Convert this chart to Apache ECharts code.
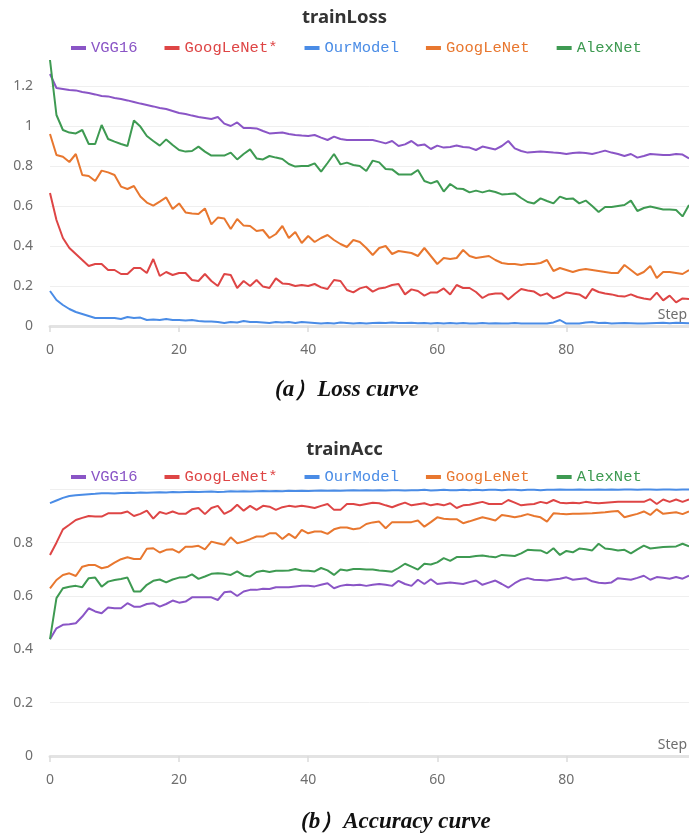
<!DOCTYPE html>
<html>
<head>
<meta charset="utf-8">
<script src="https://cdn.jsdelivr.net/npm/echarts@6/dist/echarts.min.js"></script>
<style>
html,body{margin:0;padding:0;background:#fff;}
#c{width:689px;height:834px;}
</style>
</head>
<body>
<div id="c"></div>
<script>
const seriesNames = ['VGG16', 'GoogLeNet*', 'OurModel', 'GoogLeNet', 'AlexNet'];
const colors = ['#8a55c6', '#de4545', '#4a8ce6', '#e8772f', '#3e9a52'];
const yTicksLoss = [0, 0.2, 0.4, 0.6, 0.8, 1, 1.2];
const yTicksAcc = [0, 0.2, 0.4, 0.6, 0.8];
const xTicks = [0, 20, 40, 60, 80];

const lossVGG16 = [1.26,1.19,1.185,1.18,1.178,1.17,1.165,1.158,1.15,1.148,
1.14,1.135,1.128,1.12,1.112,1.105,1.098,1.09,1.085,1.075,
1.065,1.06,1.052,1.045,1.04,1.035,1.045,1.012,1.0,1.018,
0.99,0.99,0.988,0.975,0.963,0.965,0.967,0.96,0.955,0.952,
0.95,0.955,0.942,0.93,0.947,0.935,0.93,0.93,0.93,0.93,
0.93,0.922,0.913,0.925,0.9,0.908,0.925,0.902,0.908,0.885,
0.902,0.892,0.895,0.902,0.895,0.892,0.88,0.897,0.89,0.883,
0.9,0.925,0.888,0.875,0.867,0.87,0.872,0.87,0.867,0.865,
0.86,0.865,0.868,0.865,0.86,0.868,0.877,0.867,0.86,0.85,
0.86,0.842,0.85,0.86,0.858,0.855,0.855,0.86,0.857,0.838];

const lossGoogLeNetStar = [0.665,0.53,0.44,0.39,0.36,0.33,0.30,0.31,0.31,0.28,
0.28,0.26,0.26,0.29,0.29,0.265,0.335,0.25,0.27,0.255,
0.265,0.265,0.23,0.225,0.26,0.225,0.20,0.26,0.255,0.19,
0.225,0.20,0.23,0.197,0.19,0.238,0.213,0.21,0.2,0.205,
0.2,0.21,0.193,0.185,0.23,0.225,0.18,0.168,0.188,0.197,
0.172,0.188,0.193,0.205,0.21,0.158,0.183,0.175,0.152,0.168,
0.168,0.188,0.158,0.205,0.19,0.19,0.17,0.14,0.158,0.163,
0.163,0.133,0.16,0.185,0.178,0.172,0.152,0.163,0.138,0.15,
0.168,0.163,0.158,0.138,0.185,0.17,0.163,0.158,0.15,0.147,
0.158,0.145,0.138,0.132,0.167,0.128,0.152,0.118,0.138,0.135];

const lossOurModel = [0.175,0.13,0.105,0.085,0.07,0.06,0.05,0.04,0.04,0.04,
0.04,0.035,0.045,0.04,0.042,0.03,0.032,0.03,0.035,0.03,
0.03,0.028,0.03,0.025,0.022,0.022,0.02,0.015,0.02,0.018,
0.025,0.02,0.02,0.018,0.015,0.02,0.018,0.02,0.015,0.02,
0.018,0.015,0.012,0.015,0.013,0.017,0.015,0.013,0.015,0.012,
0.015,0.016,0.015,0.018,0.015,0.015,0.016,0.014,0.015,0.013,
0.015,0.012,0.015,0.013,0.015,0.012,0.013,0.015,0.012,0.014,
0.012,0.013,0.015,0.013,0.012,0.012,0.013,0.012,0.018,0.03,
0.012,0.013,0.012,0.018,0.02,0.015,0.016,0.013,0.014,0.015,
0.014,0.013,0.013,0.014,0.015,0.016,0.014,0.016,0.015,0.014];

const lossGoogLeNet = [0.96,0.855,0.846,0.82,0.86,0.755,0.75,0.725,0.777,0.768,
0.755,0.697,0.685,0.70,0.647,0.617,0.602,0.622,0.643,0.585,
0.613,0.568,0.563,0.56,0.588,0.508,0.542,0.538,0.485,0.535,
0.502,0.50,0.475,0.48,0.44,0.46,0.50,0.44,0.47,0.415,
0.45,0.42,0.44,0.455,0.43,0.41,0.395,0.43,0.42,0.39,
0.355,0.39,0.40,0.36,0.375,0.37,0.365,0.35,0.39,0.35,
0.31,0.34,0.335,0.34,0.38,0.35,0.34,0.345,0.35,0.33,
0.315,0.31,0.31,0.305,0.31,0.31,0.315,0.33,0.275,0.29,
0.28,0.27,0.28,0.285,0.28,0.275,0.27,0.265,0.265,0.305,
0.28,0.255,0.27,0.30,0.24,0.27,0.27,0.265,0.26,0.28];

const lossAlexNet = [1.33,1.055,0.98,0.967,0.963,0.98,0.91,0.91,1.005,0.935,
0.922,0.91,0.9,1.027,0.997,0.95,0.925,0.902,0.933,0.905,
0.88,0.872,0.875,0.897,0.872,0.852,0.852,0.852,0.867,0.833,
0.86,0.883,0.838,0.833,0.85,0.842,0.835,0.81,0.797,0.8,
0.8,0.813,0.772,0.815,0.86,0.808,0.817,0.805,0.8,0.775,
0.827,0.818,0.785,0.783,0.758,0.758,0.758,0.78,0.725,0.713,
0.725,0.672,0.71,0.688,0.685,0.668,0.677,0.668,0.677,0.67,
0.658,0.66,0.663,0.64,0.62,0.613,0.638,0.625,0.613,0.647,
0.635,0.638,0.613,0.627,0.6,0.57,0.595,0.595,0.6,0.605,
0.627,0.575,0.59,0.597,0.59,0.583,0.583,0.58,0.548,0.605];

const accVGG16 = [0.438,0.479,0.492,0.494,0.498,0.523,0.554,0.542,0.535,0.557,
0.554,0.554,0.573,0.56,0.56,0.57,0.573,0.56,0.57,0.583,
0.575,0.579,0.595,0.595,0.595,0.595,0.585,0.614,0.617,0.6,
0.617,0.623,0.623,0.627,0.626,0.633,0.633,0.633,0.636,0.638,
0.638,0.636,0.642,0.648,0.629,0.638,0.642,0.64,0.642,0.638,
0.642,0.645,0.642,0.638,0.657,0.645,0.638,0.661,0.645,0.663,
0.645,0.648,0.651,0.648,0.645,0.652,0.658,0.642,0.65,0.658,
0.645,0.631,0.648,0.661,0.667,0.661,0.66,0.658,0.662,0.665,
0.67,0.661,0.664,0.667,0.655,0.65,0.648,0.651,0.667,0.664,
0.661,0.668,0.676,0.661,0.671,0.668,0.665,0.671,0.665,0.676];

const accGoogLeNetStar = [0.754,0.80,0.85,0.867,0.885,0.893,0.9,0.898,0.898,0.91,
0.91,0.91,0.917,0.9,0.908,0.92,0.89,0.915,0.908,0.917,
0.908,0.908,0.925,0.93,0.907,0.93,0.938,0.908,0.92,0.942,
0.92,0.938,0.923,0.938,0.935,0.923,0.933,0.938,0.935,0.938,
0.935,0.93,0.938,0.945,0.923,0.923,0.945,0.945,0.94,0.945,
0.95,0.948,0.94,0.933,0.942,0.95,0.94,0.944,0.948,0.94,
0.945,0.94,0.948,0.93,0.94,0.942,0.948,0.953,0.945,0.945,
0.945,0.96,0.95,0.94,0.943,0.945,0.953,0.948,0.96,0.95,
0.948,0.95,0.948,0.953,0.95,0.948,0.95,0.952,0.953,0.953,
0.953,0.953,0.953,0.963,0.945,0.962,0.953,0.962,0.953,0.962];

const accOurModel = [0.948,0.958,0.968,0.975,0.978,0.98,0.982,0.983,0.985,0.985,
0.984,0.986,0.987,0.986,0.988,0.987,0.988,0.989,0.988,0.99,
0.989,0.99,0.991,0.99,0.991,0.992,0.99,0.991,0.993,0.992,
0.993,0.992,0.993,0.994,0.993,0.994,0.993,0.995,0.994,0.995,
0.994,0.995,0.996,0.995,0.996,0.995,0.996,0.997,0.996,0.997,
0.996,0.997,0.996,0.997,0.997,0.996,0.997,0.997,0.998,0.996,
0.997,0.998,0.997,0.997,0.998,0.997,0.998,0.997,0.998,0.998,
0.997,0.998,0.998,0.997,0.998,0.998,0.997,0.998,0.998,0.999,
0.998,0.998,0.999,0.998,0.998,0.999,0.998,0.999,0.998,0.999,
0.999,0.998,0.999,0.999,0.998,0.999,0.999,0.998,0.999,0.999];

const accGoogLeNet = [0.629,0.66,0.679,0.685,0.675,0.71,0.716,0.716,0.704,0.71,
0.725,0.738,0.745,0.739,0.739,0.777,0.779,0.763,0.773,0.775,
0.763,0.785,0.785,0.788,0.775,0.804,0.798,0.792,0.82,0.798,
0.804,0.813,0.823,0.823,0.835,0.835,0.814,0.833,0.817,0.848,
0.835,0.842,0.842,0.833,0.85,0.857,0.857,0.85,0.854,0.87,
0.876,0.879,0.854,0.877,0.877,0.877,0.877,0.883,0.86,0.877,
0.895,0.89,0.888,0.888,0.873,0.88,0.888,0.895,0.89,0.883,
0.904,0.9,0.895,0.9,0.907,0.9,0.895,0.879,0.91,0.908,
0.907,0.908,0.908,0.909,0.91,0.912,0.914,0.917,0.919,0.895,
0.902,0.908,0.917,0.904,0.925,0.908,0.911,0.914,0.907,0.917];

const accAlexNet = [0.438,0.592,0.629,0.635,0.638,0.633,0.667,0.669,0.635,0.654,
0.66,0.664,0.669,0.617,0.617,0.642,0.657,0.662,0.651,0.662,
0.669,0.67,0.681,0.664,0.673,0.683,0.685,0.683,0.679,0.692,
0.677,0.673,0.69,0.695,0.69,0.695,0.695,0.696,0.701,0.696,
0.695,0.692,0.705,0.696,0.679,0.699,0.696,0.701,0.701,0.699,
0.699,0.696,0.694,0.691,0.705,0.721,0.71,0.699,0.721,0.718,
0.726,0.742,0.732,0.746,0.746,0.746,0.75,0.752,0.748,0.745,
0.754,0.752,0.75,0.76,0.773,0.772,0.771,0.76,0.779,0.754,
0.769,0.764,0.778,0.775,0.771,0.796,0.778,0.775,0.771,0.773,
0.76,0.775,0.789,0.778,0.781,0.784,0.785,0.786,0.796,0.786];

const lossData = [lossVGG16, lossGoogLeNetStar, lossOurModel, lossGoogLeNet, lossAlexNet];
const accData = [accVGG16, accGoogLeNetStar, accOurModel, accGoogLeNet, accAlexNet];

const labelFont = '"Noto Sans", "Open Sans", sans-serif';
const labelColor = '#6e6e6e';

function xAxisCfg(gridIndex) {
  return {
    type: 'value', gridIndex: gridIndex, min: 0, max: 99, interval: 20,
    name: 'Step', nameLocation: 'end', nameGap: -2,
    nameTextStyle: { color: labelColor, fontSize: 14, fontFamily: labelFont, align: 'right', verticalAlign: 'bottom', padding: [0, 0, 4, 0] },
    axisLine: { show: true, lineStyle: { color: '#e3e3e3', width: 3 } },
    axisTick: { show: true, length: 6, lineStyle: { color: '#dcdcdc', width: 1.5 }, customValues: xTicks },
    axisLabel: { color: labelColor, fontSize: 14, fontFamily: labelFont, margin: 17, customValues: xTicks },
    splitLine: { show: false }
  };
}
function yAxisCfg(gridIndex, max, ticks) {
  return {
    type: 'value', gridIndex: gridIndex, min: 0, max: max, interval: 0.2,
    axisLine: { show: false }, axisTick: { show: false },
    axisLabel: { color: labelColor, fontSize: 14, fontFamily: labelFont, margin: 17, customValues: ticks },
    splitLine: { show: true, showMaxLine: false, lineStyle: { color: '#efefef', width: 1 } }
  };
}
function legendCfg(top) {
  return {
    top: top, left: 66, itemGap: 27, itemWidth: 15, itemHeight: 4, icon: 'rect',
    itemStyle: { borderWidth: 0 },
    textStyle: { fontFamily: '"Liberation Mono", "DejaVu Sans Mono", monospace', fontSize: 15.5 },
    data: seriesNames.map((n, i) => ({ name: n, textStyle: { color: colors[i] } })),
    selectedMode: false
  };
}
const series = [];
seriesNames.forEach((n, i) => {
  series.push({ name: n, type: 'line', xAxisIndex: 0, yAxisIndex: 0, showSymbol: false, symbol: 'none',
    lineStyle: { width: 2, color: colors[i] }, itemStyle: { color: colors[i] },
    data: lossData[i].map((v, k) => [k, v]) });
});
seriesNames.forEach((n, i) => {
  series.push({ name: n, type: 'line', xAxisIndex: 1, yAxisIndex: 1, showSymbol: false, symbol: 'none',
    lineStyle: { width: 2, color: colors[i] }, itemStyle: { color: colors[i] },
    data: accData[i].map((v, k) => [k, v]) });
});

const chart = echarts.init(document.getElementById('c'), null, { renderer: 'canvas' });
chart.setOption({
  animation: false,
  backgroundColor: '#fff',
  title: [
    { text: 'trainLoss', left: 'center', top: 3, textStyle: { fontSize: 18.5, fontWeight: 'bold', color: '#333', fontFamily: labelFont } },
    { text: 'trainAcc', left: 'center', top: 435, textStyle: { fontSize: 18.5, fontWeight: 'bold', color: '#333', fontFamily: labelFont } },
    { text: '(a）Loss curve', left: 270, top: 374, textStyle: { fontSize: 23, fontWeight: 'bold', fontStyle: 'italic', color: '#111', fontFamily: '"Liberation Serif", "Times New Roman", serif' } },
    { text: '(b）Accuracy curve', left: 296, top: 806, textStyle: { fontSize: 23, fontWeight: 'bold', fontStyle: 'italic', color: '#111', fontFamily: '"Liberation Serif", "Times New Roman", serif' } }
  ],
  legend: [legendCfg(35), legendCfg(464)],
  grid: [
    { left: 50, top: 58, width: 641, height: 268 },
    { left: 50, top: 488, width: 641, height: 268 }
  ],
  xAxis: [xAxisCfg(0), xAxisCfg(1)],
  yAxis: [yAxisCfg(0, 1.34, yTicksLoss), yAxisCfg(1, 1.005, yTicksAcc)],
  series: series
});
</script>
</body>
</html>
